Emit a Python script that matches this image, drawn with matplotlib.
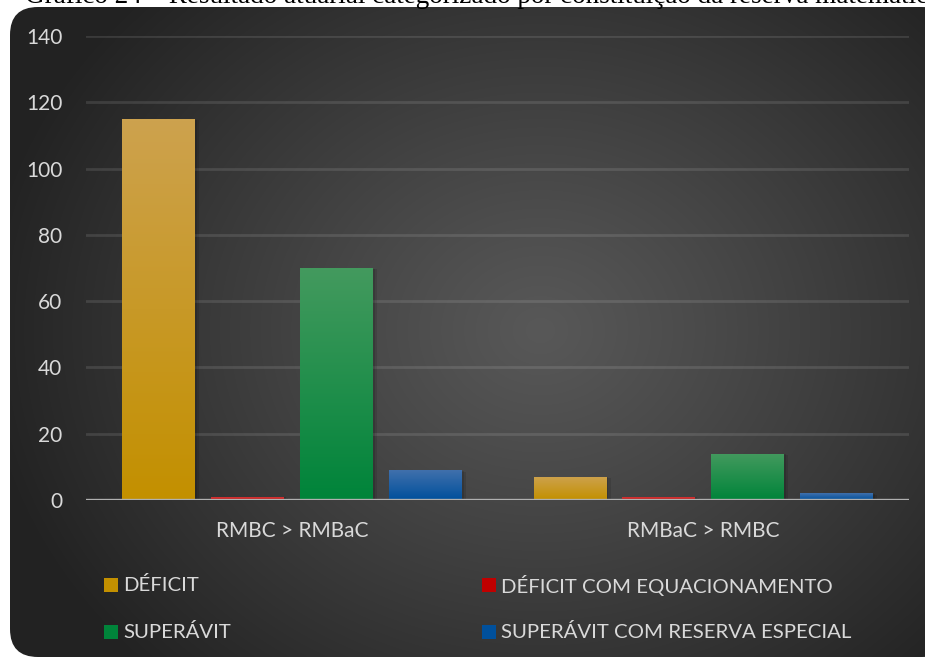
import numpy as np
import matplotlib
matplotlib.use("Agg")
import matplotlib.pyplot as plt
from matplotlib.patches import FancyBboxPatch, Rectangle
import matplotlib.patheffects as pe
from matplotlib.colors import to_rgb

# ---------------- data ----------------
title = "Gráfico 24 – Resultado atuarial categorizado por constituição da reserva matemática"
categories = ["RMBC > RMBaC", "RMBaC > RMBC"]
series_names = ["DÉFICIT", "DÉFICIT COM EQUACIONAMENTO", "SUPERÁVIT", "SUPERÁVIT COM RESERVA ESPECIAL"]
values = {
    "DÉFICIT": [115, 7],
    "DÉFICIT COM EQUACIONAMENTO": [1, 1],
    "SUPERÁVIT": [70, 14],
    "SUPERÁVIT COM RESERVA ESPECIAL": [9, 2],
}
y_ticks = [0, 20, 40, 60, 80, 100, 120, 140]

# styles
bottom_colors = ["#C39000", "#C00000", "#00843A", "#00509C"]
top_colors = ["#CDA24E", "#DA4A4A", "#439A5E", "#4070AC"]
FONT = "Lato"
TXT = "#D9D9D9"

W, H = 925, 658
fig = plt.figure(figsize=(W / 100, H / 100), dpi=100)
fig.patch.set_facecolor("white")

# ---------------- background panel ----------------
bg = fig.add_axes([0, 0, 1, 1], zorder=-5)
bg.set_xlim(0, W)
bg.set_ylim(H, 0)
bg.axis("off")
yy, xx = np.mgrid[0:H, 0:W]
cx, cy = 540, 330
r = np.sqrt(((xx - cx) / 1.0) ** 2 + ((yy - cy) / 0.85) ** 2)
t = np.clip(r / 560.0, 0, 1) ** 1.1
c_center, c_edge = 0.345, 0.135
g = c_center + (c_edge - c_center) * t
img = np.dstack([g, g, g])
panel = FancyBboxPatch((10, 7), 940, 650, boxstyle="round,pad=0,rounding_size=28",
                       transform=bg.transData, facecolor="none", edgecolor="none")
bg.add_patch(panel)
im = bg.imshow(img, extent=(0, W, H, 0), interpolation="bilinear", aspect="auto")
im.set_clip_path(panel)

# title (cut at top, as in the source document)
fig.text(25 / W, 1 - 3 / H, title, family="Liberation Serif", fontsize=19.5,
         color="black", va="baseline", ha="left")

# ---------------- main axes ----------------
ax = fig.add_axes([86 / W, 1 - 500 / H, (909 - 86) / W, (500 - 36) / H])
ax.set_facecolor("none")
ax.set_xlim(-0.5, 1.5)
ax.set_ylim(0, 140)
for s in ax.spines.values():
    s.set_visible(False)
ax.set_yticks(y_ticks)
ax.set_yticklabels([str(v) for v in y_ticks], color=TXT, fontsize=15, family=FONT)
ax.set_xticks(range(len(categories)))
ax.set_xticklabels(categories, color=TXT, fontsize=15, family=FONT)
ax.tick_params(axis="y", length=0, pad=17)
ax.tick_params(axis="x", length=0, pad=15)
for v in y_ticks[1:]:
    ax.axhline(v, color=(1, 1, 1, 0.11), lw=2.0, zorder=1)
ax.axhline(0, color="#B0B0B0", lw=2.4, zorder=6)

x = np.arange(len(categories))
step = 0.216
width = 0.177
for i, name in enumerate(series_names):
    offs = (i - 1.5) * step
    bars = ax.bar(x + offs, values[name], width, color=bottom_colors[i], zorder=3,
                  linewidth=0)
    c0 = np.array(to_rgb(top_colors[i]))
    c1 = np.array(to_rgb(bottom_colors[i]))
    grad = np.linspace(0, 1, 64)[:, None]
    gimg = c0[None, None, :] * (1 - grad[..., None]) + c1[None, None, :] * grad[..., None]
    gimg = np.repeat(gimg, 2, axis=1)
    for b in bars:
        b.set_path_effects([
            pe.SimplePatchShadow(offset=(3, -1), shadow_rgbFace="black", alpha=0.10),
            pe.SimplePatchShadow(offset=(1.5, -0.5), shadow_rgbFace="black", alpha=0.12),
            pe.Normal()])
        bx, by = b.get_x(), b.get_y()
        bw, bh = b.get_width(), b.get_height()
        gi = ax.imshow(gimg, extent=(bx, bx + bw, by, by + bh), origin="upper",
                       aspect="auto", zorder=4, interpolation="bilinear")
        gi.set_clip_path(b)
ax.set_xlim(-0.5, 1.5)
ax.set_ylim(0, 140)

# ---------------- legend (manual) ----------------
leg_pos = [(104, 585), (482, 585), (104, 632), (482, 632)]
for i, name in enumerate(series_names):
    px, py = leg_pos[i]
    fig.patches.append(Rectangle((px / W, 1 - (py + 7) / H), 14 / W, 14 / H,
                                 transform=fig.transFigure, facecolor=bottom_colors[i],
                                 edgecolor="none"))
    fig.text((px + 19) / W, 1 - py / H, name, color=TXT, fontsize=14.7, family=FONT,
             va="center", ha="left")

fig.savefig("out.png", dpi=100)
